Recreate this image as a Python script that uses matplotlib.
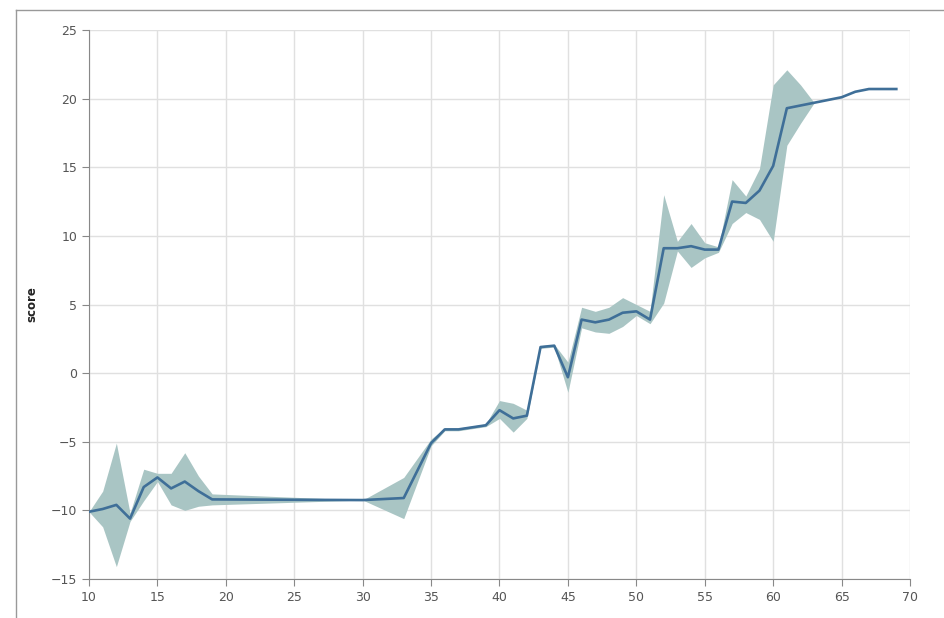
import matplotlib
matplotlib.use("Agg")

import matplotlib.pyplot as plt
from matplotlib.lines import Line2D

# score per step: mean and band (lower / upper)
steps = [10, 11, 12, 13, 14, 15, 16, 17, 18, 19, 30, 33, 35, 36, 37, 39,
         40, 41, 42, 43, 44, 45, 46, 47, 48, 49, 50, 51, 52, 53, 54, 55,
         56, 57, 58, 59, 60, 61, 62, 63, 64, 65, 66, 67, 69]
score = [-10.1, -9.9, -9.6, -10.6, -8.3, -7.6, -8.4, -7.9, -8.6, -9.2, -9.25, -9.1, -5.1, -4.1, -4.1, -3.8,
         -2.7, -3.3, -3.1, 1.9, 2.0, -0.3, 3.9, 3.7, 3.9, 4.4, 4.5, 3.9, 9.1, 9.1, 9.25, 9.0,
         9.0, 12.5, 12.4, 13.3, 15.1, 19.3, 19.5, 19.7, 19.9, 20.1, 20.5, 20.7, 20.7]
score_lo = [-10.1, -11.2, -14.1, -10.8, -9.3, -7.9, -9.6, -10.0, -9.7, -9.6, -9.25, -10.6, -5.3, -4.2, -4.2, -3.9,
            -3.3, -4.3, -3.3, 1.8, 1.9, -1.4, 3.3, 3.0, 2.9, 3.4, 4.2, 3.6, 5.1, 8.9, 7.7, 8.4,
            8.8, 10.9, 11.7, 11.2, 9.6, 16.6, 18.2, 19.7, 19.9, 20.1, 20.5, 20.7, 20.7]
score_hi = [-10.1, -8.6, -5.1, -10.2, -7.0, -7.3, -7.3, -5.8, -7.5, -8.8, -9.25, -7.6, -4.8, -4.0, -4.0, -3.7,
            -2.0, -2.2, -2.7, 2.0, 2.1, 0.8, 4.8, 4.5, 4.8, 5.5, 5.0, 4.5, 13.0, 9.6, 10.9, 9.5,
            9.2, 14.1, 12.9, 14.9, 21.0, 22.1, 21.0, 19.7, 19.9, 20.1, 20.5, 20.7, 20.7]

x_ticks = list(range(10, 71, 5))
y_ticks = list(range(-15, 26, 5))

fig = plt.figure(figsize=(9.45, 6.18), dpi=100)
ax = fig.add_axes([89 / 945, 1 - 579 / 618, (910 - 89) / 945, (579 - 30) / 618])

ax.fill_between(steps, score_lo, score_hi, color="#a9c5c4", linewidth=0, zorder=2)
ax.plot(steps, score, color="#3f6f98", linewidth=1.9, zorder=3)

ax.set_xlim(10, 70)
ax.set_ylim(-15, 25)
ax.set_xticks(x_ticks)
ax.set_yticks(y_ticks)
ax.set_yticklabels([str(v).replace("-", "\u2212") for v in y_ticks])
ax.grid(True, color="#e0e0e0", linewidth=1)
ax.set_axisbelow(True)

for side in ["top", "right"]:
    ax.spines[side].set_visible(False)
for side in ["left", "bottom"]:
    ax.spines[side].set_color("#888888")
ax.tick_params(colors="#888888", length=5, labelsize=9, labelcolor="#555555")

ax.set_ylabel("score", fontsize=8.5, fontweight="bold", color="#222222")
ax.yaxis.set_label_coords(-0.062, 0.5)

# thin frame around the chart
fig.add_artist(Line2D([16 / 945, 16 / 945], [0, 1 - 10 / 618], color="#999999", linewidth=1))
fig.add_artist(Line2D([16 / 945, 1], [1 - 10 / 618, 1 - 10 / 618], color="#999999", linewidth=1))

fig.savefig("out.png", dpi=100)
